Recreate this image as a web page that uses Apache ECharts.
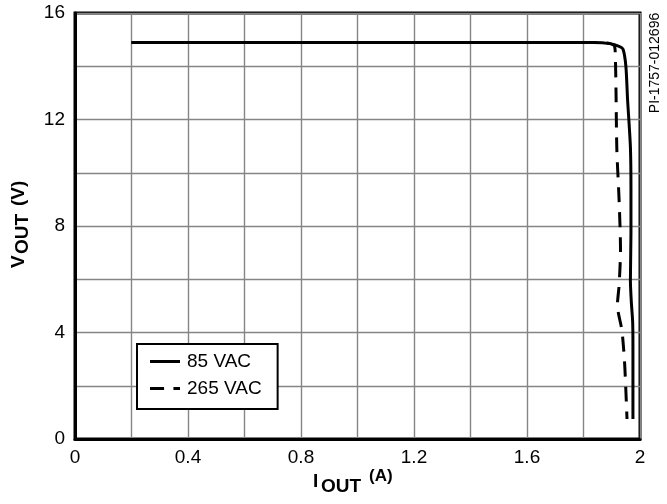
<!DOCTYPE html>
<html>
<head>
<meta charset="utf-8">
<script src="https://cdn.jsdelivr.net/npm/echarts@6/dist/echarts.min.js"></script>
<style>
html,body{margin:0;padding:0;background:#fff;}
#chart{width:667px;height:504px;}
</style>
</head>
<body>
<div id="chart"></div>
<script>
// ---- data ----
const xTickLabels = ['0', '0.4', '0.8', '1.2', '1.6', '2'];
const yTickLabels = ['0', '4', '8', '12', '16'];
const seriesNames = ['85 VAC', '265 VAC'];

const current85 = [0.2, 1.834, 1.894, 1.926, 1.94, 1.95, 1.956, 1.966, 1.968, 1.968, 1.966, 1.969, 1.974, 1.975, 1.975, 1.975];
const voltage85 = [14.89, 14.89, 14.85, 14.75, 14.64, 14.0, 12.75, 10.98, 9.36, 7.74, 5.96, 5.2, 4.4, 3.5, 1.81, 0.75];

const current265 = [0.2, 1.858, 1.894, 1.91, 1.913, 1.915, 1.918, 1.926, 1.931, 1.926, 1.92, 1.936, 1.945, 1.95, 1.954];
const voltage265 = [14.89, 14.89, 14.85, 14.75, 14.26, 13.13, 10.87, 8.98, 7.09, 5.77, 5.02, 4.08, 2.94, 1.81, 0.75];

const FONT = 'Liberation Sans, Arial, sans-serif';

function pairs(xs, ys) { return xs.map((x, i) => [x, ys[i]]); }
function fmtNum(v) { return String(parseFloat(v.toFixed(2))); }

const chart = echarts.init(document.getElementById('chart'), null, { renderer: 'canvas' });

const option = {
  animation: false,
  backgroundColor: '#fff',
  grid: {
    left: 75, right: 27, top: 13, bottom: 65,
    show: true, borderColor: '#000', borderWidth: 3, backgroundColor: 'transparent'
  },
  xAxis: {
    type: 'value', min: 0, max: 2, interval: 0.2,
    axisLine: { show: true, lineStyle: { color: '#000', width: 3 } },
    axisTick: { show: false },
    splitLine: { show: true, lineStyle: { color: '#858585', width: 1.4 } },
    axisLabel: {
      margin: 9, color: '#000', fontSize: 19, fontFamily: FONT,
      showMinLabel: true, showMaxLabel: true,
      formatter: v => { const s = fmtNum(v); return xTickLabels.includes(s) ? s : ''; }
    }
  },
  yAxis: {
    type: 'value', min: 0, max: 16, interval: 2,
    axisLine: { show: true, lineStyle: { color: '#000', width: 3 } },
    axisTick: { show: false },
    splitLine: { show: true, lineStyle: { color: '#858585', width: 1.4 } },
    axisLabel: {
      margin: 10, color: '#000', fontSize: 19, fontFamily: FONT,
      showMinLabel: true, showMaxLabel: true,
      formatter: v => { const s = fmtNum(v); return yTickLabels.includes(s) ? s : ''; }
    }
  },
  legend: {
    orient: 'vertical', left: 137, top: 344,
    data: [
      { name: seriesNames[0], icon: 'path://M0,0H30V3H0Z' },
      { name: seriesNames[1], icon: 'path://M0,0H15V3H0Z M25,0H32V3H25Z' }
    ],
    itemWidth: 30, itemHeight: 3, itemGap: 8,
    padding: [8, 16, 11, 13],
    itemStyle: { color: '#000', borderWidth: 0 },
    lineStyle: { width: 0 },
    backgroundColor: '#fff', borderColor: '#000', borderWidth: 2, borderRadius: 0,
    textStyle: { color: '#000', fontSize: 19, fontFamily: FONT, padding: [0, 0, 0, 2] }
  },
  series: [
    {
      name: seriesNames[0], type: 'line', data: pairs(current85, voltage85),
      showSymbol: false, symbol: 'none', smooth: 0.25, z: 3,
      lineStyle: { color: '#000', width: 3, type: 'solid' },
      itemStyle: { color: '#000' }
    },
    {
      name: seriesNames[1], type: 'line', data: pairs(current265, voltage265),
      showSymbol: false, symbol: 'none', smooth: 0.25, z: 3,
      lineStyle: { color: '#000', width: 3, type: [15, 10] },
      itemStyle: { color: '#000' }
    }
  ],
  graphic: [
    {
      type: 'group', x: 313, y: 0,
      children: [
        { type: 'text', x: 0, y: 482, style: { text: 'I', font: 'bold 19px ' + FONT, fill: '#000', textAlign: 'left', textVerticalAlign: 'middle' } },
        { type: 'text', x: 8, y: 487, style: { text: 'OUT', font: 'bold 19px ' + FONT, fill: '#000', textAlign: 'left', textVerticalAlign: 'middle' } },
        { type: 'text', x: 56, y: 476, style: { text: '(A)', font: 'bold 17px ' + FONT, fill: '#000', textAlign: 'left', textVerticalAlign: 'middle' } }
      ]
    },
    {
      type: 'group', x: 19, y: 268, rotation: Math.PI / 2,
      children: [
        { type: 'text', x: 0, y: 0, style: { text: 'V', font: 'bold 19px ' + FONT, fill: '#000', textAlign: 'left', textVerticalAlign: 'middle' } },
        { type: 'text', x: 14, y: 4, style: { text: 'OUT', font: 'bold 19px ' + FONT, fill: '#000', textAlign: 'left', textVerticalAlign: 'middle' } },
        { type: 'text', x: 62, y: 0, style: { text: '(V)', font: 'bold 19px ' + FONT, fill: '#000', textAlign: 'left', textVerticalAlign: 'middle' } }
      ]
    },
    {
      type: 'text', x: 655, y: 63, rotation: Math.PI / 2,
      style: { text: 'PI-1757-012696', font: '14px ' + FONT, fill: '#000', textAlign: 'center', textVerticalAlign: 'middle' }
    }
  ]
};
chart.setOption(option);
</script>
</body>
</html>
